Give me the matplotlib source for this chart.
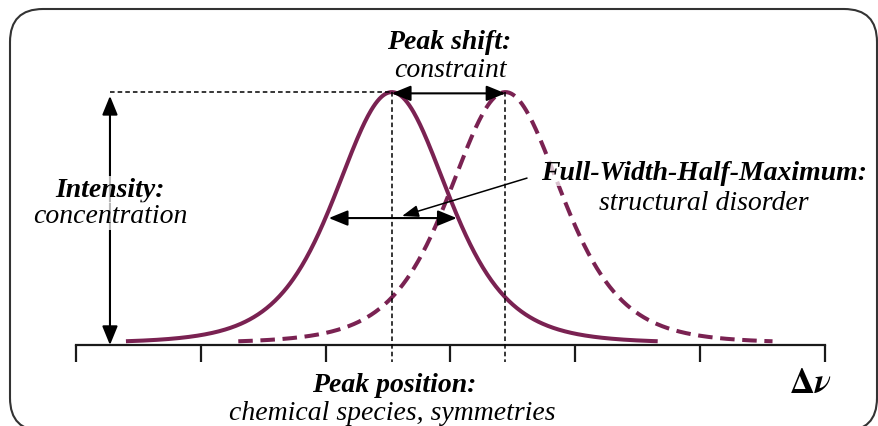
import numpy as np
import matplotlib.pyplot as plt
from matplotlib.patches import FancyArrowPatch, FancyBboxPatch

plt.rcParams['mathtext.fontset'] = 'stix'

# values: x in axis units (one unit per tick), y as fraction of the peak
tick_positions = [0, 1, 2, 3, 4, 5, 6]
peak_centers = [2.53, 3.44]   # reference peak, shifted peak
peak_heights = [0.992, 0.992]
peak_hwhm = [0.53, 0.53]
peak_span = [2.13, 2.14]
peak_base = 0.008
half_max = 0.502

label_titles = ['Peak shift:', 'Intensity:', 'Full-Width-Half-Maximum:', 'Peak position:']
label_notes = ['constraint', 'concentration', 'structural disorder', 'chemical species, symmetries']

curve_color = '#7a2252'
serif = 'Liberation Serif'


def pearson7(x, c, h, w, m=3.0):
    return peak_base + h * (1 + ((x - c) / w) ** 2 * (2 ** (1 / m) - 1)) ** (-m)


fig = plt.figure(figsize=(8.79, 4.27), dpi=100)
ax = fig.add_axes([0, 0, 1, 1])
ax.set_xlim(-0.609, 6.433)
ax.set_ylim(-0.320, 1.368)
ax.set_facecolor('none')

# the Δν axis
for side in ['top', 'right', 'left']:
    ax.spines[side].set_visible(False)
ax.spines['bottom'].set_position(('data', 0))
ax.spines['bottom'].set_bounds(tick_positions[0], tick_positions[-1])
ax.spines['bottom'].set_linewidth(1.6)
ax.spines['bottom'].set_color('#1a1a1a')
ax.set_xticks(tick_positions)
ax.set_yticks([])
ax.tick_params(axis='x', direction='out', length=12.2, width=1.6, color='#1a1a1a', labelbottom=False)

# the two peaks
styles = ['-', (0, (3.6, 1.9))]
for c, h, w, s, ls in zip(peak_centers, peak_heights, peak_hwhm, peak_span, styles):
    xs = np.linspace(c - s, c + s, 500)
    ax.plot(xs, pearson7(xs, c, h, w), color=curve_color, lw=2.9, ls=ls,
            solid_capstyle='butt', dash_capstyle='butt', zorder=2)

# guide lines
top = peak_base + peak_heights[0]
guide = dict(color='black', lw=1.1, ls=(0, (3, 2)), zorder=3)
ax.plot([0.272, peak_centers[0]], [top, top], **guide)
for c in peak_centers:
    ax.plot([c, c], [top, -0.067], **guide)


def arrow(p0, p1, style, lw, hl, hw):
    ax.add_patch(FancyArrowPatch(p0, p1, arrowstyle=f'{style},head_length={hl},head_width={hw}',
                                 mutation_scale=1, lw=lw, color='black',
                                 shrinkA=0, shrinkB=0, zorder=4))


arrow((0.272, 0.0), (0.272, 0.985), '<|-|>', 1.5, 11.5, 4.7)
arrow((peak_centers[0], 0.995), (peak_centers[1], 0.995), '<|-|>', 1.5, 11.5, 4.7)
fwhm_left = peak_centers[0] - 0.505
fwhm_right = peak_centers[0] + 0.52
arrow((fwhm_left, half_max), (fwhm_right, half_max), '<|-|>', 1.5, 11.5, 4.7)
arrow((3.613, 0.660), (2.612, 0.51), '-|>', 1.1, 10, 3.6)

# labels
box = dict(boxstyle='square,pad=0.05', fc='white', ec='none', alpha=0.72)
title_pos = [(2.99, 1.174), (0.272, 0.589), (5.03, 0.656), (2.547, -0.182)]
note_pos = [(2.996, 1.063), (0.272, 0.486), (5.03, 0.538), (2.53, -0.292)]
for t, (x, y) in zip(label_titles, title_pos):
    ax.text(x, y, t, family=serif, style='italic', weight='bold', fontsize=20,
            ha='center', va='baseline', bbox=box, zorder=5)
for t, (x, y) in zip(label_notes, note_pos):
    ax.text(x, y, t, family=serif, style='italic', fontsize=20,
            ha='center', va='baseline', bbox=box, zorder=5)
ax.text(5.88, -0.186, r'$\mathbf{\Delta}\boldsymbol{\nu}$', fontsize=25,
        ha='center', va='baseline', zorder=5)

# rounded frame
frame = FancyBboxPatch((0.10, -0.05), 8.67, 4.22, boxstyle='round,pad=0,rounding_size=0.33',
                       transform=fig.dpi_scale_trans, fill=False, lw=1.5, ec='#333333',
                       clip_on=False)
fig.add_artist(frame)

fig.savefig('out.png', dpi=100)
